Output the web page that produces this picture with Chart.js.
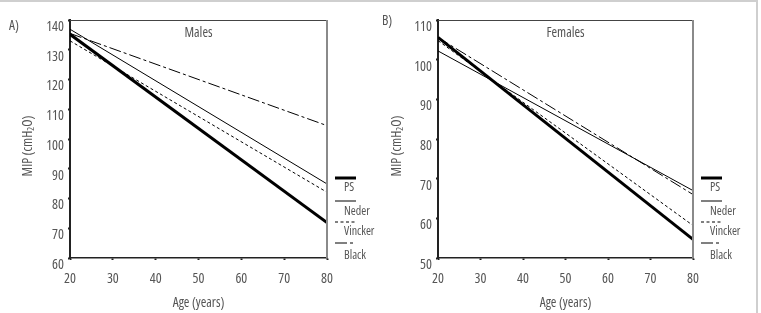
<!DOCTYPE html>
<html lang="en">
<head>
  <meta charset="UTF-8" />
  <title>MIP by age</title>
  <script src="https://cdn.jsdelivr.net/npm/chart.js"></script>
  <style>
    body { margin: 0; background: #fff; font-family: 'Open Sans', sans-serif; font-stretch: 75%; }
    #frame { position: absolute; left: 0; top: 0; width: 756px; height: 311px; border-top: 2px solid #cfcfcf; border-right: 2px solid #cfcfcf; }
    .panel { position: absolute; top: 0; }
    .tag { position: absolute; font-size: 13.5px; color: #555; }
  </style>
</head>
<body>
  <div id="frame"></div>
  <canvas id="males" class="panel" width="382" height="313" style="left:0"></canvas>
  <canvas id="females" class="panel" width="381" height="313" style="left:380px"></canvas>
  <div class="tag" style="left:9px;top:16px">A)</div>
  <div class="tag" style="left:382px;top:11px">B)</div>

  <script>
    // 'condensed' goes in front of the size in the canvas font string
    const FAMILY = "'Open Sans', sans-serif";
    const TICK_FONT = { family: FAMILY, weight: 'condensed', size: 14 };
    const TITLE_FONT = { family: FAMILY, weight: 'condensed', size: 13.5 };
    const TEXT = '#555';

    // ages at the two ends of each regression line
    const ages = [20, 80];
    const seriesNames = ['PS', 'Neder', 'Vincker', 'Black'];

    // males, MIP cmH2O
    const malePS = [135.2, 71.9];
    const maleNeder = [136.9, 84.9];
    const maleVincker = [133, 82.1];
    const maleBlack = [135.5, 104.5];

    // females
    const femalePS = [105.6, 54.7];
    const femaleNeder = [102.2, 67];
    const femaleVincker = [104.8, 58.2];
    const femaleBlack = [105.6, 66];

    const maleRange = [60, 140];
    const femaleRange = [50, 110];

    const styles = [
      { borderWidth: 3, borderDash: [] },
      { borderWidth: 1, borderDash: [] },
      { borderWidth: 1, borderDash: [3, 2.5] },
      { borderWidth: 1, borderDash: [12, 3, 3, 3] }
    ];

    // legend rows: y of the line sample, y of the label
    const legendRows = [[178, 188], [201, 211.5], [222, 231.5], [243, 256]];

    const panelPlugin = {
      id: 'panel',
      afterDraw(chart, args, opts) {
        const { ctx, chartArea: a } = chart;
        ctx.save();
        // top and right edges of the box
        ctx.strokeStyle = '#444';
        ctx.lineWidth = 1;
        ctx.beginPath();
        ctx.moveTo(a.left, a.top + 0.5);
        ctx.lineTo(a.right, a.top + 0.5);
        ctx.stroke();
        ctx.strokeStyle = '#8a8a8a';
        ctx.lineWidth = 2;
        ctx.beginPath();
        ctx.moveTo(a.right, a.top);
        ctx.lineTo(a.right, a.bottom);
        ctx.stroke();

        ctx.fillStyle = TEXT;
        ctx.font = 'condensed 13.5px ' + FAMILY;
        ctx.textAlign = 'center';
        ctx.textBaseline = 'middle';
        ctx.fillText(opts.title, (a.left + a.right) / 2, 33);

        // y axis title with a subscript 2
        ctx.save();
        ctx.translate(opts.yTitleX, 146);
        ctx.rotate(-Math.PI / 2);
        ctx.textAlign = 'left';
        const big = 'condensed 13.5px ' + FAMILY, small = 'condensed 9px ' + FAMILY;
        const parts = [['MIP (cmH', big, 0], ['2', small, 3], ['O)', big, 0]];
        let total = 0;
        parts.forEach(p => { ctx.font = p[1]; total += ctx.measureText(p[0]).width; });
        let px = -total / 2;
        parts.forEach(p => {
          ctx.font = p[1];
          ctx.fillText(p[0], px, p[2]);
          px += ctx.measureText(p[0]).width;
        });
        ctx.restore();

        // legend
        ctx.font = 'condensed 12px ' + FAMILY;
        ctx.textAlign = 'left';
        chart.data.datasets.forEach((ds, i) => {
          const [ly, ty] = legendRows[i];
          ctx.strokeStyle = '#000';
          ctx.lineWidth = ds.borderWidth;
          ctx.setLineDash(ds.borderDash);
          ctx.beginPath();
          ctx.moveTo(opts.x, ly);
          ctx.lineTo(opts.x + 21, ly);
          ctx.stroke();
          ctx.setLineDash([]);
          ctx.fillText(ds.label, opts.x + 9, ty);
        });
        ctx.restore();
      }
    };

    function makePanel(id, title, values, range, pad, yWidth, yTitleX, legendX) {
      const datasets = values.map((v, i) => ({
        label: seriesNames[i],
        data: ages.map((a, j) => ({ x: a, y: v[j] })),
        borderColor: '#000',
        borderWidth: styles[i].borderWidth,
        borderDash: styles[i].borderDash,
        pointRadius: 0,
        fill: false
      }));
      return new Chart(document.getElementById(id), {
        type: 'line',
        data: { datasets },
        options: {
          responsive: false,
          animation: false,
          layout: { padding: pad },
          plugins: {
            legend: { display: false },
            tooltip: { enabled: false },
            panel: { title, x: legendX, yTitleX }
          },
          scales: {
            x: {
              type: 'linear', min: 20, max: 80,
              afterFit: s => { s.height = 55; },
              ticks: { stepSize: 10, color: TEXT, font: TICK_FONT, padding: 11 },
              grid: { drawOnChartArea: false, tickLength: 2, tickWidth: 2, color: '#222' },
              border: { color: '#222', width: 1.5 },
              title: { display: true, text: 'Age (years)', color: TEXT, font: TITLE_FONT, padding: { top: 0, bottom: 2 } }
            },
            y: {
              min: range[0], max: range[1],
              afterFit: s => { s.width = yWidth; },
              ticks: { stepSize: 10, color: TEXT, font: TICK_FONT, padding: 4, labelOffset: 7 },
              grid: { drawOnChartArea: false, tickLength: 2, tickWidth: 2, color: '#222' },
              border: { color: '#222', width: 2 }
            }
          }
        },
        plugins: [panelPlugin]
      });
    }

    makePanel('males', 'Males', [malePS, maleNeder, maleVincker, maleBlack], maleRange,
      { left: 0, top: 20, right: 55, bottom: 0 }, 70, 28, 335);
    makePanel('females', 'Females', [femalePS, femaleNeder, femaleVincker, femaleBlack], femaleRange,
      { left: 0, top: 20, right: 68, bottom: 0 }, 58, 17, 321);
  </script>
</body>
</html>
